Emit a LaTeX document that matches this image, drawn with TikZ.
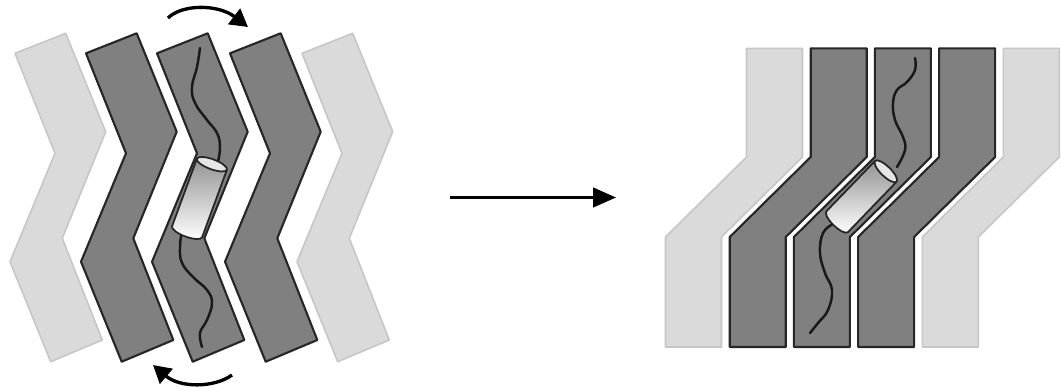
\documentclass[tikz,border=0pt]{standalone}
\usetikzlibrary{arrows.meta}

\definecolor{stripdark}{HTML}{808080}
\definecolor{stripedge}{HTML}{262626}
\definecolor{striplight}{HTML}{DADADA}
\definecolor{stripline}{HTML}{C6C6C6}

% zig-zag strip (tilted stack), shifted horizontally by #2
\newcommand\zigstrip[2]{%
  \begin{scope}[shift={(#2,0)}]
    \draw[#1] (86,53.3) -- (136.7,33.3) -- (176.7,131.7) -- (133.3,238.3)
      -- (173.3,340) -- (121.7,361.7) -- (81,261.7) -- (126,153.3) -- cycle;
  \end{scope}}

% straight strip with one 45-degree step, shifted horizontally by #2
\newcommand\bentstrip[2]{%
  \begin{scope}[shift={(#2,0)}]
    \draw[#1] (0,48.3) -- (56,48.3) -- (56,157) -- (-25,237) -- (-25,347)
      -- (-81,347) -- (-81,237) -- (0,157) -- cycle;
  \end{scope}}

% cylinder: centre (#1,#2), axis angle #3, half length #4, radius #5
\newcommand\channel[5]{%
  \begin{scope}[shift={(#1,#2)}, rotate=#3, y=0.02cm]
    \fill[cylbody] (#4,#5) -- (-#4,#5)
      arc[start angle=90, end angle=270, x radius=5, y radius=#5]
      -- (#4,-#5) -- cycle;
    \draw[cyledge] (#4,#5) -- (-#4,#5)
      arc[start angle=90, end angle=270, x radius=5, y radius=#5]
      -- (#4,-#5);
    \draw[cyledge, cylcap] (#4,0) ellipse[x radius=5, y radius=#5];
  \end{scope}}

\begin{document}
\begin{tikzpicture}[x=0.02cm, y=-0.02cm,
  darkstrip/.style={fill=stripdark, draw=stripedge, line width=1.2pt, line join=round},
  lightstrip/.style={fill=striplight, draw=stripline, line width=0.9pt, line join=round},
  worm/.style={draw=black!90, line width=1.4pt, line cap=round},
  cylbody/.style={top color=gray!85, bottom color=white},
  cyledge/.style={draw=black!85, line width=1pt, line join=round},
  cylcap/.style={fill=gray!20},
  turn/.style={line width=1.9pt, -{Triangle[length=10pt, width=11pt]}},
  step arrow/.style={line width=1.7pt, -{Triangle[length=13pt, width=11pt]}}]
\useasboundingbox (0,0) rectangle (1061,390);

% ---- tilted zig-zag stack ----
\zigstrip{lightstrip}{-71}
\zigstrip{darkstrip}{0}
\zigstrip{darkstrip}{71}
\zigstrip{darkstrip}{144}
\zigstrip{lightstrip}{216}

\draw[worm] plot[smooth, tension=0.7] coordinates
  {(200,48) (197,67) (192,87) (195,103) (207,120) (217,133) (220,147) (218,162)};
\draw[worm] plot[smooth, tension=0.7] coordinates
  {(182,230) (180,247) (182,263) (193,277) (207,290) (212,303) (207,320) (200,333) (202,347)};

\channel{199.5}{198}{69.8}{36}{16}

% rotation arrows
\coordinate (tl) at (168,18);
\coordinate (tr) at (248,27);
\coordinate (bl) at (153,365);
\coordinate (br) at (232,375);
\draw[turn] (tl) .. controls (182,4) and (218,4) .. (tr);
\draw[turn] (br) .. controls (214,388) and (180,388) .. (bl);

% ---- transition arrow ----
\coordinate (from) at (450,197.5);
\coordinate (to) at (616,197.5);
\draw[step arrow] (from) -- (to);

% ---- straightened stack ----
\bentstrip{lightstrip}{746.5}
\bentstrip{darkstrip}{810.7}
\bentstrip{darkstrip}{874.9}
\bentstrip{darkstrip}{939.1}
\bentstrip{lightstrip}{1003.3}

\draw[worm] plot[smooth, tension=0.7] coordinates
  {(915,58) (915,70) (907,82) (897,90) (893,103) (895,120) (903,137) (905,150) (897,167)};
\draw[worm] plot[smooth, tension=0.7] coordinates
  {(833,224) (823,233) (820,253) (825,273) (832,290) (828,310) (818,323) (810,333)};

\channel{861.5}{196.5}{46}{35}{15}

\end{tikzpicture}
\end{document}
